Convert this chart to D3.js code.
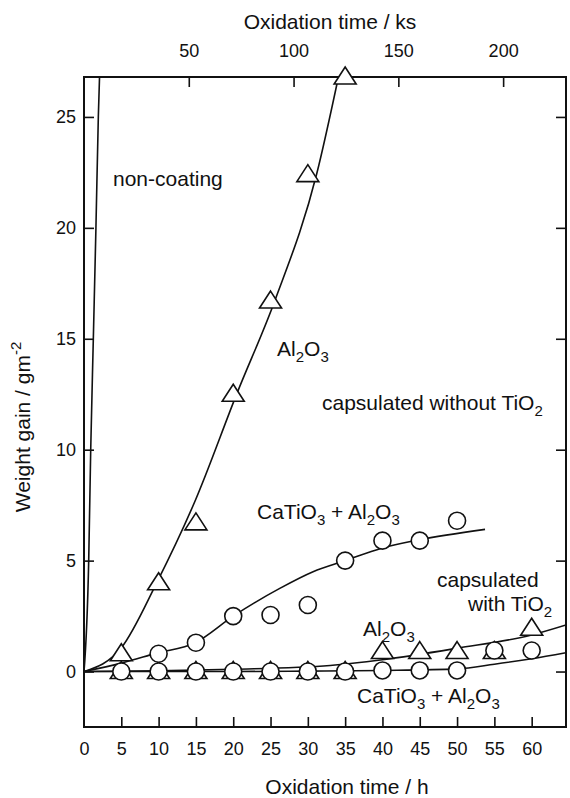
<!DOCTYPE html>
<html>
<head>
<meta charset="utf-8">
<script src="https://cdn.jsdelivr.net/npm/d3@7"></script>
<style>
  html, body { margin: 0; padding: 0; background: #fff; }
  svg { display: block; }
  text { font-family: "Liberation Sans", Arial, Helvetica, sans-serif; fill: #111; }
</style>
</head>
<body>
<svg id="chart" width="570" height="798"></svg>
<script>
// ---------- data ----------
const hourTicks = [0, 5, 10, 15, 20, 25, 30, 35, 40, 45, 50, 55, 60];
const ksTicks = [50, 100, 150, 200];
const weightTicks = [0, 5, 10, 15, 20, 25];

// capsulated without TiO2
const hoursAl2O3NoTiO2 = [5, 10, 15, 20, 25, 30, 35];
const al2o3NoTiO2 = [0.8, 4.0, 6.7, 12.5, 16.7, 22.4, 26.8];
const hoursCaNoTiO2 = [10, 15, 20, 25, 30, 35, 40, 45, 50];
const caTiO3NoTiO2 = [0.8, 1.3, 2.5, 2.55, 3.0, 5.0, 5.9, 5.9, 6.8];

// capsulated with TiO2
const hoursWithTiO2 = [5, 10, 15, 20, 25, 30, 35, 40, 45, 50, 55, 60];
const al2o3WithTiO2 = [0, 0, 0, 0, 0, 0, 0, 0.9, 0.9, 0.9, 0.9, 1.95];
const caTiO3WithTiO2 = [0, 0, 0, 0, 0, 0, 0, 0.05, 0.05, 0.05, 0.95, 0.95];

// fitted curves
const nonCoatingCurveH = [0, 0.63, 0.9, 1.25, 1.6, 1.92, 2.1];
const nonCoatingCurveW = [0, 5, 10, 15, 20, 25, 27];
const al2o3NoTiO2CurveH = [0, 5, 9.74, 14.9, 20.5, 25.6, 31.2, 34.1];
const al2o3NoTiO2CurveW = [0, 1.07, 4.0, 7.7, 12.54, 16.74, 22.45, 26.8];
const caNoTiO2CurveH = [0, 5, 9.74, 14.9, 20, 26.3, 30.7, 35, 39.9, 44.8, 53.75];
const caNoTiO2CurveW = [0, 0.38, 0.83, 1.3, 2.5, 3.76, 4.5, 5.0, 5.56, 5.93, 6.41];
const al2o3WithTiO2CurveH = [0, 10, 20, 33, 40, 50, 60, 64.6];
const al2o3WithTiO2CurveW = [0, 0.03, 0.1, 0.27, 0.53, 1.05, 1.65, 2.1];
const caWithTiO2CurveH = [0, 10, 20, 30, 40, 50, 55, 60, 64.6];
const caWithTiO2CurveW = [0, 0, 0, 0.02, 0.05, 0.12, 0.33, 0.58, 0.85];

// ---------- layout ----------
const svg = d3.select("#chart");
const L = 84, R = 566, T = 77, B = 727;
const x = d3.scaleLinear().domain([0, 64.6]).range([L, R]);
const xKs = d3.scaleLinear().domain([0, 230]).range([L, R]);
const y = d3.scaleLinear().domain([-2.5, 26.8]).range([B, T]);

const zip = (a, b) => a.map((v, i) => [v, b[i]]);

svg.append("defs").append("clipPath").attr("id", "plotclip")
  .append("rect").attr("x", L).attr("y", T).attr("width", R - L).attr("height", B - T);

// axes
function styleAxis(g) {
  g.select(".domain").remove();
  g.selectAll(".tick line").attr("stroke", "#111").attr("stroke-width", 1.6);
  g.selectAll(".tick text").style("font-size", "18px").attr("fill", "#111")
    .style("font-family", '"Liberation Sans", Arial, sans-serif');
}
svg.append("g").attr("transform", `translate(0,${B})`)
  .call(d3.axisBottom(x).tickValues(hourTicks).tickSizeInner(-10).tickSizeOuter(0).tickPadding(15).tickFormat(d3.format("d")))
  .call(styleAxis)
  .call(g => g.selectAll(".tick").filter(d => d === 0).select("line").remove());
svg.append("g").attr("transform", `translate(${L},0)`)
  .call(d3.axisLeft(y).tickValues(weightTicks).tickSizeInner(-10).tickSizeOuter(0).tickPadding(8).tickFormat(d3.format("d")))
  .call(styleAxis);
svg.append("g").attr("transform", `translate(${R},0)`)
  .call(d3.axisRight(y).tickValues(weightTicks).tickSizeInner(-10).tickSizeOuter(0).tickFormat(""))
  .call(styleAxis);
svg.append("g").attr("transform", `translate(0,${T})`)
  .call(d3.axisTop(xKs).tickValues(ksTicks).tickSizeInner(-10).tickSizeOuter(0).tickPadding(20).tickFormat(d3.format("d")))
  .call(styleAxis);

// frame
svg.append("rect").attr("x", L).attr("y", T).attr("width", R - L).attr("height", B - T)
  .attr("fill", "none").attr("stroke", "#111").attr("stroke-width", 2);

// axis titles
svg.append("text").attr("x", 330).attr("y", 29).attr("text-anchor", "middle")
  .style("font-size", "21px").text("Oxidation time / ks");
svg.append("text").attr("x", 347).attr("y", 794).attr("text-anchor", "middle")
  .style("font-size", "21px").text("Oxidation time / h");
const yt = svg.append("text").attr("transform", "translate(30,427) rotate(-90)")
  .attr("text-anchor", "middle").style("font-size", "21px");
yt.append("tspan").text("Weight gain / gm");
yt.append("tspan").attr("dy", -9).style("font-size", "15px").text("-2");

// curves
const line = d3.line().x(d => x(d[0])).y(d => y(d[1])).curve(d3.curveMonotoneX);
const curves = svg.append("g").attr("clip-path", "url(#plotclip)")
  .attr("fill", "none").attr("stroke", "#111").attr("stroke-width", 1.6);
[
  zip(nonCoatingCurveH, nonCoatingCurveW),
  zip(al2o3NoTiO2CurveH, al2o3NoTiO2CurveW),
  zip(caNoTiO2CurveH, caNoTiO2CurveW),
  zip(al2o3WithTiO2CurveH, al2o3WithTiO2CurveW),
  zip(caWithTiO2CurveH, caWithTiO2CurveW)
].forEach(c => curves.append("path").attr("d", line(c)));

// markers
const tri = "M0,-10L11,7L-11,7Z";
function triangles(data) {
  svg.append("g").selectAll("path").data(data).join("path")
    .attr("d", tri)
    .attr("transform", d => `translate(${x(d[0])},${y(d[1])})`)
    .attr("fill", "#fff").attr("stroke", "#111").attr("stroke-width", 1.6);
}
function circles(data) {
  svg.append("g").selectAll("circle").data(data).join("circle")
    .attr("cx", d => x(d[0])).attr("cy", d => y(d[1])).attr("r", 8.5)
    .attr("fill", "#fff").attr("stroke", "#111").attr("stroke-width", 1.6);
}
triangles(zip(hoursWithTiO2, al2o3WithTiO2));
circles(zip(hoursWithTiO2, caTiO3WithTiO2));
triangles(zip(hoursAl2O3NoTiO2, al2o3NoTiO2));
circles(zip(hoursCaNoTiO2, caTiO3NoTiO2));

// annotations
function label(px, py, parts) {
  const t = svg.append("text").attr("x", px).attr("y", py).style("font-size", "21px");
  let shifted = false;
  parts.forEach(p => {
    const sub = p.startsWith("_");
    const s = t.append("tspan").text(sub ? p.slice(1) : p);
    if (sub && !shifted) { s.attr("dy", 6).style("font-size", "15px"); shifted = true; }
    else if (sub) { s.style("font-size", "15px"); }
    else if (!sub && shifted) { s.attr("dy", -6); shifted = false; }
  });
}
label(113, 186, ["non-coating"]);
label(277, 356, ["Al", "_2", "O", "_3"]);
label(322, 410, ["capsulated without TiO", "_2"]);
label(257, 519, ["CaTiO", "_3", " + Al", "_2", "O", "_3"]);
label(437, 587, ["capsulated"]);
label(468, 611, ["with TiO", "_2"]);
label(363, 636, ["Al", "_2", "O", "_3"]);
label(357, 703, ["CaTiO", "_3", " + Al", "_2", "O", "_3"]);
</script>
</body>
</html>
